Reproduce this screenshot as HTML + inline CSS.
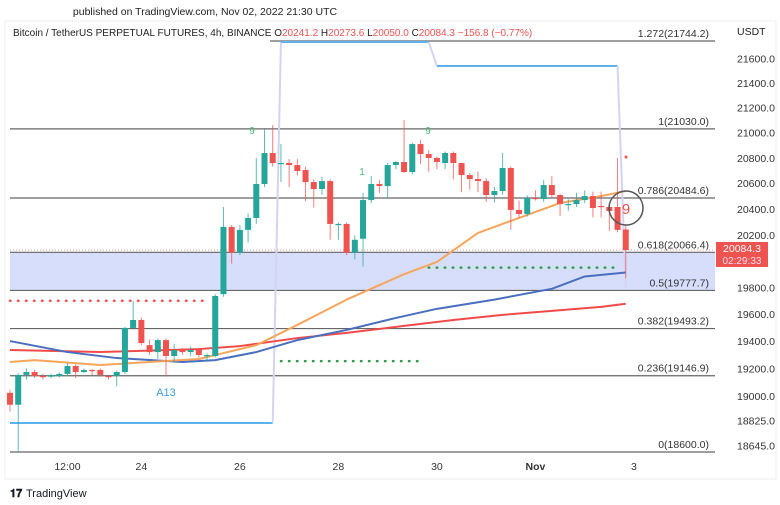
<!DOCTYPE html>
<html><head><meta charset="utf-8"><style>
body{margin:0;background:#fff;width:780px;height:505px;overflow:hidden;font-family:"Liberation Sans",sans-serif}
svg{display:block}
</style></head><body>
<svg id="c" width="780" height="505" viewBox="0 0 780 505" xmlns="http://www.w3.org/2000/svg">
<rect x="5" y="21" width="771" height="458" fill="#fff" stroke="#eceef2"/>
<text x="205" y="15" text-anchor="middle" font-size="10.5" fill="#222">published on TradingView.com, Nov 02, 2022 21:30 UTC</text>
<text x="13" y="36" font-size="10" fill="#222">Bitcoin / TetherUS PERPETUAL FUTURES, 4h, BINANCE  O<tspan fill="#ef5350">20241.2</tspan> H<tspan fill="#ef5350">20273.6</tspan> L<tspan fill="#ef5350">20050.0</tspan> C<tspan fill="#ef5350">20084.3</tspan> <tspan fill="#ef5350">−156.8 (−0.77%)</tspan></text>
<text x="737" y="35" font-size="10.5" fill="#222">USDT</text>
<g id="g"></g>
<text x="10" y="497" font-size="11" font-weight="bold" fill="#131722">𝟏𝟕</text>
<text x="26" y="497" font-size="11" fill="#131722">TradingView</text>
</svg>
<script>
const opens=[19023,18937,19153,19174,19145,19140,19145,19160,19218,19174,19189,19189,19145,19145,19174,19498,19557,19371,19320,19408,19291,19335,19320,19342,19298,19291,19750,20261,20064,20238,20330,20594,20838,20759,20759,20743,20704,20609,20555,20617,20284,20284,20064,20170,20469,20594,20578,20743,20767,20688,20909,20830,20799,20759,20838,20759,20664,20633,20617,20508,20539,20720,20392,20361,20485,20477,20586,20508,20438,20438,20469,20500,20423,20415,20415,20241];
const closes=[18937,19153,19174,19145,19140,19150,19160,19218,19174,19189,19181,19153,19138,19174,19498,19557,19386,19320,19408,19291,19335,19320,19335,19298,19298,19736,20261,20064,20238,20330,20594,20838,20759,20759,20743,20696,20609,20555,20617,20284,20284,20064,20162,20469,20594,20578,20743,20767,20688,20909,20830,20799,20767,20838,20759,20664,20633,20617,20508,20539,20720,20392,20361,20485,20477,20586,20508,20438,20438,20469,20500,20407,20415,20384,20238,20084];
const highs=[19045,19165,19200,19190,19160,19160,19170,19240,19230,19200,19195,19200,19155,19185,19505,19700,19575,19410,19420,19420,19380,19350,19360,19350,19310,19750,20415,20275,20275,20365,20799,21029,21061,20909,20790,20790,20730,20630,20650,20630,20295,20295,20195,20525,20655,20625,20760,20775,21101,20920,20940,20860,20810,20850,20850,20760,20680,20690,20640,20570,20838,20730,20465,20505,20545,20625,20655,20515,20475,20525,20545,20535,20535,20425,20799,20273];
const lows=[18888,18600,19120,19130,19120,19130,19135,19145,19130,19165,19150,19140,19120,19070,19160,19485,19370,19300,19270,19140,19250,19300,19290,19280,19250,19280,19730,19980,20045,20140,20285,20570,20730,20610,20570,20660,20460,20410,20510,20162,20162,20045,20011,19958,20445,20525,20485,20710,20680,20670,20750,20690,20710,20710,20630,20530,20550,20530,20455,20450,20510,20238,20330,20340,20465,20455,20485,20345,20385,20415,20445,20335,20335,20231,20220,19870];
const orangeIdx=[0,3,11,23,25,30,35,41,48,52,57,62,67,72,75];
const orangeVal=[19247,19261,19225,19269,19298,19371,19520,19709,19900,19993,20215,20330,20446,20500,20539];
const blueIdx=[0,7,13,21,25,30,35,41,47,52,59,66,70,75];
const blueVal=[19401,19320,19276,19247,19261,19320,19408,19483,19572,19640,19709,19790,19883,19913];
const redIdx=[0,11,23,28,35,41,48,54,60,66,72,75];
const redVal=[19335,19320,19342,19364,19423,19461,19513,19557,19595,19625,19655,19678];
const fibLevels=["1.272","1","0.786","0.618","0.5","0.382","0.236","0"];
const fibPrices=[21744.2,21030.0,20484.6,20066.4,19777.7,19493.2,19146.9,18600.0];
const yTicks=[21600,21400,21200,21000,20800,20600,20400,20200,19800,19600,19400,19200,19000,18825,18645];
const xTickIdx=[7,16,28,40,52,64,76];
const xTickLabels=["12:00","24","26","28","30","Nov","3"];
const stIdx=[0,32,33,51,52,74];
const stVal=[18806,18806,21736,21736,21539,21539];
const lastPrice=20084.3;

const NS="http://www.w3.org/2000/svg";
const g=document.getElementById('g');
const LT=Math.log(21744.2),LB=Math.log(18600);
function y(v){return 41+(LT-Math.log(v))/(LT-LB)*411;}
function x(i){return 10+i*8.21;}
function el(t,a,p){const e=document.createElementNS(NS,t);for(const k in a)e.setAttribute(k,a[k]);(p||g).appendChild(e);return e;}
let band=el('rect',{x:10,y:y(20066.4),width:705,height:y(19777.7)-y(20066.4),fill:'#d7defc'});


fibPrices.forEach((p,k)=>{
  const x0=k===0?270:10;
  const l=el('line',{x1:x0,x2:715,y1:y(p),y2:y(p),stroke:'#666','stroke-width':1.2});
  
  
  const t=el('text',{x:709,y:y(p)-4,'text-anchor':'end','font-size':10.5,fill:'#333'});
  t.textContent=fibLevels[k]+'('+p.toFixed(1)+')';
  
  
});
yTicks.forEach(v=>{
  const t=el('text',{x:737,y:y(v)+4,'font-size':10.5,fill:'#333'});
  t.textContent=v.toFixed(1);
  
  
});
xTickIdx.forEach((i,k)=>{
  const t=el('text',{x:x(i),y:470,'text-anchor':'middle','font-size':10.5,fill:'#333','font-weight':xTickLabels[k]==='Nov'?'bold':'normal'});
  t.textContent=xTickLabels[k];
  
  
});
// supertrend: horizontal segments in blue, flips in lavender
for(let k=0;k<stIdx.length-1;k++){
  const horiz=stVal[k]===stVal[k+1];
  const s=el('line',{x1:x(stIdx[k]),x2:x(stIdx[k+1]),y1:y(stVal[k]),y2:y(stVal[k+1]),stroke:horiz?'#5db2ee':'#d6d3f2','stroke-width':2});
  
  
}
const v2=el('line',{x1:x(74),x2:x(75),y1:y(21539),y2:y(19800),stroke:'#d6d3f2','stroke-width':2});


function dots(i0,i1,v,c,name){
  const l=el('line',{x1:x(i0),x2:x(i1),y1:y(v),y2:y(v),stroke:c,'stroke-width':2.5,'stroke-dasharray':'0.5 7.5','stroke-linecap':'round'});
  
  
}
dots(0,24,19700,'#ef5350','red-dotted-level');
dots(33,50,19254,'#2e9e45','green-dotted-level');
dots(51,74,19950,'#2e9e45','green-dotted-level-2');
const pl=el('line',{x1:10,x2:715,y1:y(lastPrice),y2:y(lastPrice),stroke:'#ef9a9a','stroke-width':1,'stroke-dasharray':'1 2'});


function ma(idx,val,c,name){
  const d=idx.map((i,k)=>(k?'L':'M')+x(i)+' '+y(val[k])).join('');
  const p=el('path',{d:d,fill:'none',stroke:c,'stroke-width':2,'stroke-linejoin':'round'});
  
  
}
ma(redIdx,redVal,'#ef4b4b','ma-red');
ma(blueIdx,blueVal,'#4a6fbf','ma-blue');
ma(orangeIdx,orangeVal,'#f6a55a','ma-orange');
opens.forEach((o,i)=>{
  const c=closes[i],up=c>=o,col=up?'#26a69a':'#ef5350';
  const cg=el('g',{});
  
  
  el('line',{x1:x(i),x2:x(i),y1:y(highs[i]),y2:y(lows[i]),stroke:col,'stroke-width':1,opacity:0.75},cg);
  const top=y(Math.max(o,c)),bot=y(Math.min(o,c));
  el('rect',{x:x(i)-3,y:top,width:6,height:Math.max(1.2,bot-top),fill:col},cg);
});
function txt(tx,ty,s,c,fs,name){const t=el('text',{x:tx,y:ty,'font-size':fs,fill:c,'text-anchor':'middle'});t.textContent=s;}
txt(166,396,'A13','#3d9be0',11,'signal-a13');
txt(252,134,'9','#4cba7a',10,'td-9-label');
txt(428,134,'9','#4cba7a',10,'td-9-label-2');
txt(362,175,'1','#4cba7a',10,'td-1-label');
txt(626,214,'9','#ef5350',15,'td-9-red');
const circ=el('circle',{cx:626,cy:208,r:17,fill:'none',stroke:'#555','stroke-width':1.5});


const rd=el('circle',{cx:626,cy:157,r:1.5,fill:'#ef5350'});


const tag=el('rect',{x:716,y:y(lastPrice)-8,width:52,height:25,fill:'#ef5350'});


txt(742,y(lastPrice)+2,lastPrice.toFixed(1),'#fff',10.5,'last-price-value');
txt(742,y(lastPrice)+14,'02:29:33','#fde',10,'bar-countdown');
</script>
</body></html>
